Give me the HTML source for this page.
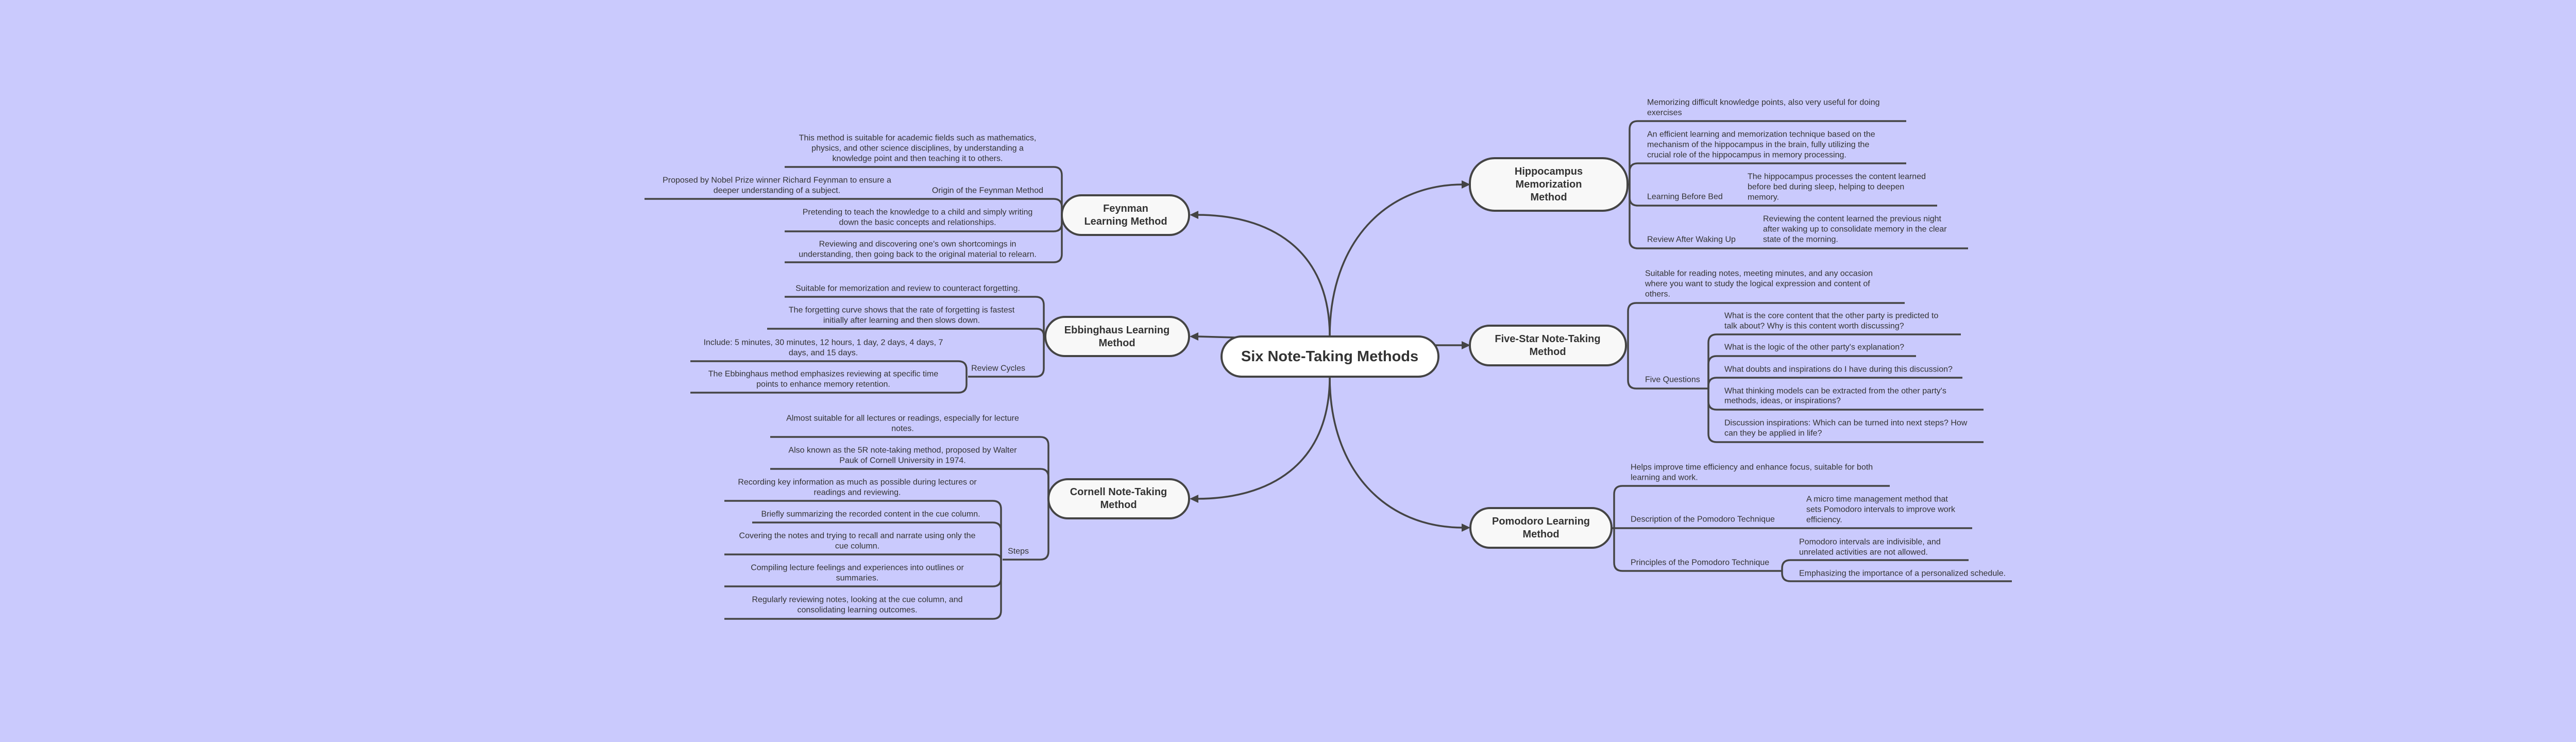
<!DOCTYPE html>
<html>
<head>
<meta charset="utf-8">
<style>
  html,body{margin:0;padding:0;background:#cacafd;}
  svg{display:block;}
  .t{font-family:"Liberation Sans",Arial,sans-serif;font-size:16px;fill:#333;}
  .n{font-family:"Liberation Sans",Arial,sans-serif;font-size:20px;font-weight:bold;fill:#333;}
  .c{font-family:"Liberation Sans",Arial,sans-serif;font-size:29px;font-weight:bold;fill:#333;}
  .ln{fill:none;stroke:#454545;stroke-width:3.5;stroke-linejoin:round;stroke-linecap:butt;}
  .mc{fill:none;stroke:#444;stroke-width:3.5;}
  .nd{fill:#f8f8f8;stroke:#444;stroke-width:4;}
  .ar{fill:#444;}
</style>
</head>
<body>
<svg width="5120" height="1440" viewBox="0 0 5120 1440" xmlns="http://www.w3.org/2000/svg">
<rect x="0" y="0" width="5120" height="1440" fill="#cacafd"/>

<!-- main connectors -->
<path class="mc" d="M2581,653 C2581,470 2690,358 2840,358"/>
<path class="mc" d="M2786,670 L2840,670"/>
<path class="mc" d="M2581,731 C2581,914 2690,1024 2840,1024"/>
<path class="mc" d="M2581,653 C2581,480 2460,417 2324,417"/>
<path class="mc" d="M2398,655 L2324,653"/>
<path class="mc" d="M2581,731 C2581,905 2460,968 2324,968"/>
<polygon class="ar" points="2854,358 2837,350 2837,366"/>
<polygon class="ar" points="2854,670 2837,662 2837,678"/>
<polygon class="ar" points="2854,1024 2837,1016 2837,1032"/>
<polygon class="ar" points="2309,417 2326,409 2326,425"/>
<polygon class="ar" points="2309,653 2326,645 2326,661"/>
<polygon class="ar" points="2309,968 2326,960 2326,976"/>

<!-- Feynman branch lines -->
<path class="ln" d="M1523,324 L2045,324 Q2061,324 2061,340 L2061,417"/>
<path class="ln" d="M1251,386 L2045,386 Q2061,386 2061,402 L2061,417"/>
<path class="ln" d="M1523,449 L2045,449 Q2061,449 2061,433 L2061,417"/>
<path class="ln" d="M1523,509 L2045,509 Q2061,509 2061,493 L2061,417"/>

<!-- Ebbinghaus branch lines -->
<path class="ln" d="M1523,576 L2010,576 Q2026,576 2026,592 L2026,653"/>
<path class="ln" d="M1489,638 L2012,638 Q2026,638 2026,652 L2026,653"/>
<path class="ln" d="M1879,731 L2010,731 Q2026,731 2026,715 L2026,653"/>
<path class="ln" d="M1340,701 L1860,701 Q1876,701 1876,717 L1876,731"/>
<path class="ln" d="M1340,762 L1860,762 Q1876,762 1876,746 L1876,731"/>

<!-- Cornell branch lines -->
<path class="ln" d="M1495,848 L2019,848 Q2035,848 2035,864 L2035,968"/>
<path class="ln" d="M1495,910 L2019,910 Q2035,910 2035,926 L2035,968"/>
<path class="ln" d="M1946,1086 L2019,1086 Q2035,1086 2035,1070 L2035,968"/>
<path class="ln" d="M1406,972 L1927,972 Q1943,972 1943,988 L1943,1086"/>
<path class="ln" d="M1460,1014 L1927,1014 Q1943,1014 1943,1030 L1943,1086"/>
<path class="ln" d="M1406,1076 L1929,1076 Q1943,1076 1943,1086"/>
<path class="ln" d="M1406,1138 L1927,1138 Q1943,1138 1943,1122 L1943,1086"/>
<path class="ln" d="M1406,1201 L1927,1201 Q1943,1201 1943,1185 L1943,1086"/>

<!-- Hippocampus branch lines -->
<path class="ln" d="M3157,358 L3163,358"/>
<path class="ln" d="M3163,358 L3163,251 Q3163,235 3179,235 L3700,235"/>
<path class="ln" d="M3163,358 L3163,333 Q3163,317 3179,317 L3700,317"/>
<path class="ln" d="M3163,358 L3163,383 Q3163,399 3179,399 L3760,399"/>
<path class="ln" d="M3163,358 L3163,466 Q3163,482 3179,482 L3820,482"/>

<!-- Five-Star branch lines -->
<path class="ln" d="M3160,670 L3160,604 Q3160,588 3176,588 L3697,588"/>
<path class="ln" d="M3160,670 L3160,738 Q3160,754 3176,754 L3316,754"/>
<path class="ln" d="M3316,754 L3316,665 Q3316,649 3332,649 L3806,649"/>
<path class="ln" d="M3316,754 L3316,707 Q3316,691 3332,691 L3719,691"/>
<path class="ln" d="M3316,754 L3316,749 Q3316,733 3332,733 L3809,733"/>
<path class="ln" d="M3316,754 L3316,779 Q3316,795 3332,795 L3850,795"/>
<path class="ln" d="M3316,754 L3316,842 Q3316,858 3332,858 L3850,858"/>

<!-- Pomodoro branch lines -->
<path class="ln" d="M3133,1024 L3133,959 Q3133,943 3149,943 L3668,943"/>
<path class="ln" d="M3126,1025 L3828,1025"/>
<path class="ln" d="M3133,1024 L3133,1092 Q3133,1108 3149,1108 L3459,1108"/>
<path class="ln" d="M3459,1108 L3459,1103 Q3459,1087 3475,1087 L3821,1087"/>
<path class="ln" d="M3459,1108 L3459,1112 Q3459,1128 3475,1128 L3905,1128"/>

<!-- nodes -->
<rect x="2371" y="653" width="421" height="78" rx="39" fill="#ffffff" stroke="#444" stroke-width="4"/>
<text class="c" x="2581" y="692" text-anchor="middle" dominant-baseline="central">Six Note-Taking Methods</text>

<rect class="nd" x="2061" y="379" width="247" height="77" rx="38"/>
<text class="n" x="2185" y="405" text-anchor="middle" dominant-baseline="central">Feynman</text>
<text class="n" x="2185" y="430" text-anchor="middle" dominant-baseline="central">Learning Method</text>

<rect class="nd" x="2029" y="615" width="279" height="76" rx="38"/>
<text class="n" x="2168" y="641" text-anchor="middle" dominant-baseline="central">Ebbinghaus Learning</text>
<text class="n" x="2168" y="666" text-anchor="middle" dominant-baseline="central">Method</text>

<rect class="nd" x="2035" y="930" width="273" height="76" rx="38"/>
<text class="n" x="2171" y="955" text-anchor="middle" dominant-baseline="central">Cornell Note-Taking</text>
<text class="n" x="2171" y="980" text-anchor="middle" dominant-baseline="central">Method</text>

<rect class="nd" x="2853" y="307" width="306" height="102" rx="48"/>
<text class="n" x="3006" y="333" text-anchor="middle" dominant-baseline="central">Hippocampus</text>
<text class="n" x="3006" y="358" text-anchor="middle" dominant-baseline="central">Memorization</text>
<text class="n" x="3006" y="383" text-anchor="middle" dominant-baseline="central">Method</text>

<rect class="nd" x="2853" y="632" width="303" height="77" rx="38"/>
<text class="n" x="3004" y="658" text-anchor="middle" dominant-baseline="central">Five-Star Note-Taking</text>
<text class="n" x="3004" y="683" text-anchor="middle" dominant-baseline="central">Method</text>

<rect class="nd" x="2854" y="986" width="274" height="77" rx="38"/>
<text class="n" x="2991" y="1012" text-anchor="middle" dominant-baseline="central">Pomodoro Learning</text>
<text class="n" x="2991" y="1037" text-anchor="middle" dominant-baseline="central">Method</text>

<!-- Feynman texts -->
<g class="t" text-anchor="middle" dominant-baseline="central">
<text x="1781" y="268">This method is suitable for academic fields such as mathematics,</text>
<text x="1781" y="288">physics, and other science disciplines, by understanding a</text>
<text x="1781" y="308">knowledge point and then teaching it to others.</text>
<text x="1508" y="350">Proposed by Nobel Prize winner Richard Feynman to ensure a</text>
<text x="1508" y="370">deeper understanding of a subject.</text>
<text x="1781" y="412">Pretending to teach the knowledge to a child and simply writing</text>
<text x="1781" y="432">down the basic concepts and relationships.</text>
<text x="1781" y="474">Reviewing and discovering one's own shortcomings in</text>
<text x="1781" y="494">understanding, then going back to the original material to relearn.</text>
</g>
<text class="t" x="2025" y="370" text-anchor="end" dominant-baseline="central">Origin of the Feynman Method</text>

<!-- Ebbinghaus texts -->
<g class="t" text-anchor="middle" dominant-baseline="central">
<text x="1762" y="560">Suitable for memorization and review to counteract forgetting.</text>
<text x="1750" y="602">The forgetting curve shows that the rate of forgetting is fastest</text>
<text x="1750" y="622">initially after learning and then slows down.</text>
<text x="1598" y="665">Include: 5 minutes, 30 minutes, 12 hours, 1 day, 2 days, 4 days, 7</text>
<text x="1598" y="685">days, and 15 days.</text>
<text x="1598" y="726">The Ebbinghaus method emphasizes reviewing at specific time</text>
<text x="1598" y="746">points to enhance memory retention.</text>
</g>
<text class="t" x="1990" y="715" text-anchor="end" dominant-baseline="central">Review Cycles</text>

<!-- Cornell texts -->
<g class="t" text-anchor="middle" dominant-baseline="central">
<text x="1752" y="812">Almost suitable for all lectures or readings, especially for lecture</text>
<text x="1752" y="832">notes.</text>
<text x="1752" y="874">Also known as the 5R note-taking method, proposed by Walter</text>
<text x="1752" y="894">Pauk of Cornell University in 1974.</text>
<text x="1664" y="936">Recording key information as much as possible during lectures or</text>
<text x="1664" y="956">readings and reviewing.</text>
<text x="1690" y="998">Briefly summarizing the recorded content in the cue column.</text>
<text x="1664" y="1040">Covering the notes and trying to recall and narrate using only the</text>
<text x="1664" y="1060">cue column.</text>
<text x="1664" y="1102">Compiling lecture feelings and experiences into outlines or</text>
<text x="1664" y="1122">summaries.</text>
<text x="1664" y="1164">Regularly reviewing notes, looking at the cue column, and</text>
<text x="1664" y="1184">consolidating learning outcomes.</text>
</g>
<text class="t" x="1997" y="1070" text-anchor="end" dominant-baseline="central">Steps</text>

<!-- Hippocampus texts -->
<g class="t" text-anchor="start" dominant-baseline="central">
<text x="3197" y="199">Memorizing difficult knowledge points, also very useful for doing</text>
<text x="3197" y="219">exercises</text>
<text x="3197" y="261">An efficient learning and memorization technique based on the</text>
<text x="3197" y="281">mechanism of the hippocampus in the brain, fully utilizing the</text>
<text x="3197" y="301">crucial role of the hippocampus in memory processing.</text>
<text x="3197" y="382">Learning Before Bed</text>
<text x="3392" y="343">The hippocampus processes the content learned</text>
<text x="3392" y="363">before bed during sleep, helping to deepen</text>
<text x="3392" y="383">memory.</text>
<text x="3197" y="465">Review After Waking Up</text>
<text x="3422" y="425">Reviewing the content learned the previous night</text>
<text x="3422" y="445">after waking up to consolidate memory in the clear</text>
<text x="3422" y="465">state of the morning.</text>
</g>

<!-- Five-Star texts -->
<g class="t" text-anchor="start" dominant-baseline="central">
<text x="3193" y="531">Suitable for reading notes, meeting minutes, and any occasion</text>
<text x="3193" y="551">where you want to study the logical expression and content of</text>
<text x="3193" y="571">others.</text>
<text x="3193" y="737">Five Questions</text>
<text x="3347" y="613">What is the core content that the other party is predicted to</text>
<text x="3347" y="633">talk about? Why is this content worth discussing?</text>
<text x="3347" y="674">What is the logic of the other party's explanation?</text>
<text x="3347" y="717">What doubts and inspirations do I have during this discussion?</text>
<text x="3347" y="759">What thinking models can be extracted from the other party's</text>
<text x="3347" y="778">methods, ideas, or inspirations?</text>
<text x="3347" y="821">Discussion inspirations: Which can be turned into next steps? How</text>
<text x="3347" y="841">can they be applied in life?</text>
</g>

<!-- Pomodoro texts -->
<g class="t" text-anchor="start" dominant-baseline="central">
<text x="3165" y="907">Helps improve time efficiency and enhance focus, suitable for both</text>
<text x="3165" y="927">learning and work.</text>
<text x="3165" y="1008">Description of the Pomodoro Technique</text>
<text x="3506" y="969">A micro time management method that</text>
<text x="3506" y="989">sets Pomodoro intervals to improve work</text>
<text x="3506" y="1009">efficiency.</text>
<text x="3165" y="1092">Principles of the Pomodoro Technique</text>
<text x="3492" y="1052">Pomodoro intervals are indivisible, and</text>
<text x="3492" y="1072">unrelated activities are not allowed.</text>
<text x="3492" y="1113">Emphasizing the importance of a personalized schedule.</text>
</g>
</svg>
</body>
</html>
